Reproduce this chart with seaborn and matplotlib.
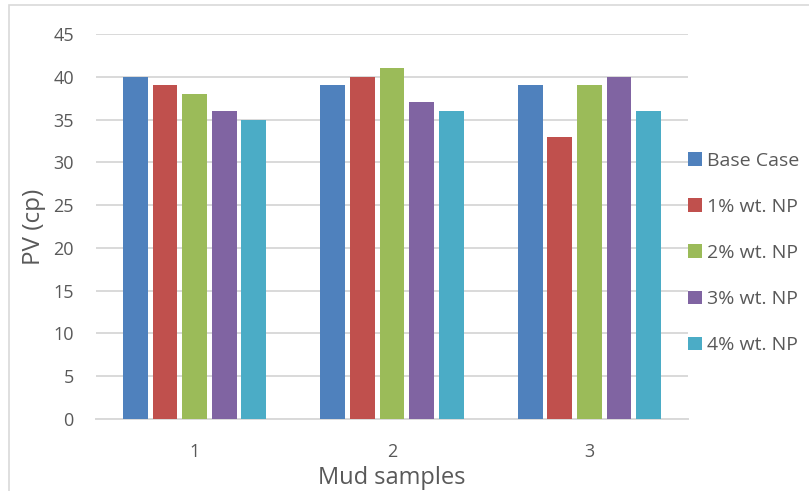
import matplotlib
matplotlib.use("Agg")
import matplotlib.pyplot as plt
import seaborn as sns
import pandas as pd
from matplotlib.patches import Rectangle

samples = ["1", "2", "3"]
series = ["Base Case", "1% wt. NP", "2% wt. NP", "3% wt. NP", "4% wt. NP"]
base_case = [40, 39, 39]
np_1 = [39, 40, 33]
np_2 = [38, 41, 39]
np_3 = [36, 37, 40]
np_4 = [35, 36, 36]
y_ticks = [0, 5, 10, 15, 20, 25, 30, 35, 40, 45]

colors = ["#4F81BD", "#C0504D", "#9BBB59", "#8064A2", "#4BACC6"]

rows = []
for name, vals in zip(series, [base_case, np_1, np_2, np_3, np_4]):
    for s, v in zip(samples, vals):
        rows.append({"Mud samples": s, "PV (cp)": v, "Series": name})
df = pd.DataFrame(rows)

sns.set_theme(style="white")
plt.rcParams["font.family"] = ["Open Sans", "DejaVu Sans"]
text_color = "#595959"
grid_color = "#D9D9D9"

fig = plt.figure(figsize=(8.09, 4.91), dpi=100)
ax = fig.add_axes([96 / 809, 1 - 419 / 491, (688 - 96) / 809, (419 - 34) / 491])

sns.barplot(data=df, x="Mud samples", y="PV (cp)", hue="Series",
            palette=colors, width=0.75, gap=0.16, ax=ax,
            saturation=1, errorbar=None, legend=True, zorder=3,
            edgecolor="none", linewidth=0)

ax.set_ylim(0, 45)
ax.set_yticks(y_ticks)
ax.set_yticklabels([str(t) for t in y_ticks])
ax.yaxis.grid(True, color=grid_color, linewidth=1.4, zorder=0)
ax.set_axisbelow(True)
for side in ["top", "right", "left"]:
    ax.spines[side].set_visible(False)
ax.spines["bottom"].set_color(grid_color)
ax.spines["bottom"].set_linewidth(1.4)
ax.tick_params(axis="y", length=0, pad=16, labelsize=13, labelcolor=text_color)
ax.tick_params(axis="x", length=0, pad=17, labelsize=13, labelcolor=text_color)
ax.set_xlabel("Mud samples", fontsize=17, color=text_color, labelpad=4)
ax.set_ylabel("PV (cp)", fontsize=17.5, color=text_color, labelpad=5)

handles, labels = ax.get_legend_handles_labels()
ax.legend(handles, labels, loc="center left", bbox_to_anchor=(688 / 809, 1 - 253 / 491),
          bbox_transform=fig.transFigure, frameon=False, fontsize=14,
          labelcolor=text_color, handlelength=0.7, handleheight=0.7,
          handletextpad=0.3, labelspacing=1.45, borderpad=0, borderaxespad=0)

# light chart-area border
fig.patches.append(Rectangle((9 / 809, -0.1), 1.2, 1 - 5 / 491 + 0.1,
                             transform=fig.transFigure, fill=False,
                             edgecolor="#D9D9D9", linewidth=1.2))

fig.savefig("out.png", dpi=100)
